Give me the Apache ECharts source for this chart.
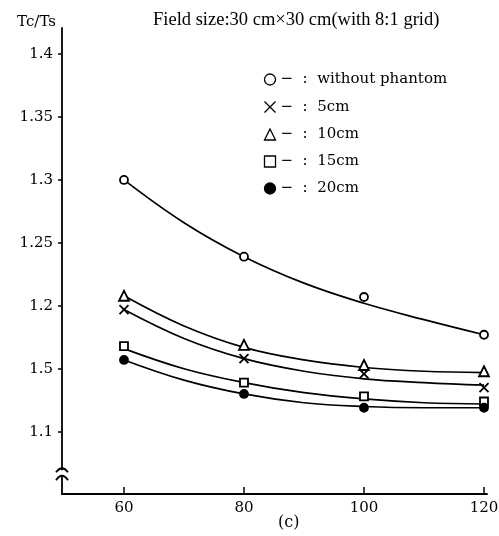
<!doctype html>
<html>
<head>
<meta charset="utf-8">
<title>Tc/Ts</title>
<style>
    html, body { margin: 0; padding: 0; background: #fff; }
    #chart { width: 499px; height: 536px; }
</style>
</head>
<body>
<div id="chart"></div>
<script src="https://cdn.jsdelivr.net/npm/echarts@6/dist/echarts.min.js"></script>
<script>
// measured points
var xValues = [60, 80, 100, 120];
var names = ['without phantom', '5cm', '10cm', '15cm', '20cm'];
var noPhantom = [1.300, 1.239, 1.207, 1.177];
var depth5 = [1.197, 1.158, 1.146, 1.135];
var depth10 = [1.208, 1.169, 1.153, 1.148];
var depth15 = [1.168, 1.139, 1.128, 1.124];
var depth20 = [1.157, 1.130, 1.119, 1.119];

// hand fitted curves
var curveX = [60, 70, 80, 90, 100, 110, 120];
var curveNoPhantom = [1.300, 1.266, 1.239, 1.218, 1.202, 1.189, 1.177];
var curve5 = [1.197, 1.174, 1.158, 1.148, 1.142, 1.139, 1.137];
var curve10 = [1.208, 1.184, 1.167, 1.157, 1.151, 1.148, 1.147];
var curve15 = [1.166, 1.150, 1.139, 1.131, 1.126, 1.123, 1.122];
var curve20 = [1.157, 1.141, 1.130, 1.123, 1.120, 1.119, 1.119];

// axis ticks (1.15 is printed "1.5" in the original)
var xTicks = [60, 80, 100, 120];
var yTicks = [1.1, 1.15, 1.2, 1.25, 1.3, 1.35, 1.4];
var yTickLabels = ['1.1', '1.5', '1.2', '1.25', '1.3', '1.35', '1.4'];

var serif = 'DejaVu Serif';
var chart = echarts.init(document.getElementById('chart'));

function pairs(xs, ys) {
    return xs.map(function (x, i) { return [x, ys[i]]; });
}

var marks = [
    { data: noPhantom, curve: curveNoPhantom, symbol: 'circle', size: 8, fill: '#fff' },
    { data: depth5, curve: curve5, symbol: 'path://M0,0L10,10M10,0L0,10', size: 9, fill: 'none' },
    { data: depth10, curve: curve10, symbol: 'triangle', size: 10, fill: '#fff' },
    { data: depth15, curve: curve15, symbol: 'rect', size: 8, fill: '#fff' },
    { data: depth20, curve: curve20, symbol: 'circle', size: 8, fill: '#000' }
];

var series = [];
marks.forEach(function (m, i) {
    series.push({
        name: 'fit ' + names[i],
        type: 'line',
        smooth: 0.4,
        symbol: 'none',
        silent: true,
        lineStyle: { color: '#000', width: 1.7 },
        data: pairs(curveX, m.curve),
        z: 2
    });
});
marks.forEach(function (m, i) {
    series.push({
        name: names[i],
        type: 'scatter',
        symbol: m.symbol,
        symbolSize: m.size,
        itemStyle: { color: m.fill, borderColor: '#000', borderWidth: 1.8, opacity: 1 },
        data: pairs(xValues, m.data),
        z: 3
    });
});

var option = {
    animation: false,
    backgroundColor: '#fff',
    title: [
        {
            text: 'Field size:30 cm×30 cm(with 8:1 grid)',
            left: 153, top: 11, padding: 0,
            textStyle: { fontFamily: 'Liberation Serif', fontSize: 18.5, fontWeight: 'normal', color: '#000' }
        },
        {
            text: '(c)',
            left: 278, top: 515, padding: 0,
            textStyle: { fontFamily: serif, fontSize: 16, fontWeight: 'normal', color: '#000' }
        }
    ],
    legend: {
        orient: 'vertical',
        left: 262, top: 72, padding: 0,
        itemWidth: 11, itemHeight: 11, itemGap: 12,
        data: names,
        itemStyle: { borderWidth: 1.3 },
        formatter: function (name) { return '\u2212  :  ' + name; },
        textStyle: { fontFamily: serif, fontSize: 15, lineHeight: 15, color: '#000' }
    },
    grid: { left: 62, right: 12, top: 28, bottom: 42, outerBoundsMode: 'none' },
    xAxis: {
        type: 'value',
        min: 49.67, max: 120.5,
        axisLine: { show: true, lineStyle: { color: '#000', width: 1.8 } },
        axisTick: { show: true, inside: true, length: 7, customValues: xTicks, lineStyle: { color: '#000', width: 1.5 } },
        axisLabel: { customValues: xTicks, margin: 7, fontFamily: serif, fontSize: 15, color: '#000' },
        splitLine: { show: false }
    },
    yAxis: {
        type: 'value',
        min: 1.0505, max: 1.4207,
        name: 'Tc/Ts',
        nameLocation: 'end',
        nameGap: 6,
        nameTextStyle: { fontFamily: serif, fontSize: 15, color: '#000', align: 'right', verticalAlign: 'middle', padding: [0, 6, 0, 0] },
        axisLine: { show: true, lineStyle: { color: '#000', width: 1.8 } },
        axisTick: { show: true, length: 4, customValues: yTicks, lineStyle: { color: '#000', width: 1.5 } },
        axisLabel: {
            customValues: yTicks,
            margin: 9,
            fontFamily: serif, fontSize: 15, color: '#000',
            formatter: function (v) {
                for (var i = 0; i < yTicks.length; i++) {
                    if (Math.abs(yTicks[i] - v) < 1e-6) return yTickLabels[i];
                }
                return '';
            }
        },
        splitLine: { show: false }
    },
    series: series
};
chart.setOption(option);

// axis break mark on the y axis
var ax = chart.convertToPixel({ xAxisIndex: 0 }, 49.67);
var by = chart.convertToPixel({ yAxisIndex: 0 }, 1.067);
chart.setOption({
    graphic: [
        { type: 'rect', shape: { x: ax - 3, y: by - 3, width: 6, height: 6 }, style: { fill: '#fff' }, z: 10 },
        { type: 'bezierCurve', shape: { x1: ax - 6, y1: by - 1, x2: ax + 6, y2: by - 1, cpx1: ax, cpy1: by - 9 },
          style: { stroke: '#000', lineWidth: 1.8, fill: null }, z: 11 },
        { type: 'bezierCurve', shape: { x1: ax - 6, y1: by + 7, x2: ax + 6, y2: by + 7, cpx1: ax, cpy1: by - 2 },
          style: { stroke: '#000', lineWidth: 1.8, fill: null }, z: 11 }
    ]
});
</script>
</body>
</html>
